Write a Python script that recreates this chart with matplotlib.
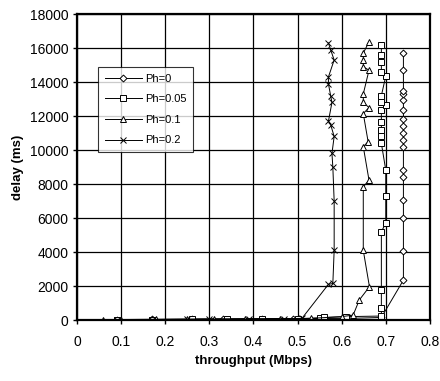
import matplotlib
matplotlib.use("Agg")
import matplotlib.pyplot as plt

plt.rcParams['font.family'] = ['Liberation Sans', 'DejaVu Sans']

# Ph = 0 (diamond)
ph0_x = [0.09, 0.17, 0.26, 0.33, 0.42, 0.49, 0.55, 0.62, 0.69, 0.74, 0.74, 0.74, 0.74, 0.74, 0.74,
         0.74, 0.74, 0.74, 0.74, 0.74, 0.74, 0.74, 0.74, 0.74, 0.74, 0.74]
ph0_y = [30, 40, 50, 60, 70, 80, 90, 100, 150, 2350, 4060, 6020, 7060, 8400, 8800,
         10200, 10600, 11000, 11400, 11800, 12350, 12950, 13300, 13500, 14700, 15700]

# Ph = 0.05 (square)
ph05_x = [0.09, 0.17, 0.26, 0.34, 0.42, 0.50, 0.55, 0.56, 0.61, 0.69, 0.69, 0.69, 0.69, 0.70, 0.70,
          0.70, 0.69, 0.69, 0.69, 0.69, 0.69, 0.70, 0.69, 0.69, 0.70, 0.69, 0.69, 0.69, 0.69]
ph05_y = [20, 30, 40, 50, 60, 80, 120, 150, 200, 235, 700, 1760, 5200, 5700, 7290,
          8820, 10400, 10800, 11200, 11650, 12350, 12640, 12800, 13200, 14350, 14600, 15200, 15600, 16170]

# Ph = 0.1 (triangle)
ph1_x = [0.06, 0.10, 0.18, 0.25, 0.31, 0.38, 0.46, 0.53, 0.60, 0.626, 0.64, 0.663, 0.649, 0.649, 0.662,
         0.649, 0.66, 0.649, 0.662, 0.649, 0.649, 0.662, 0.649, 0.649, 0.649, 0.662]
ph1_y = [20, 30, 40, 50, 60, 70, 80, 100, 200, 290, 1180, 1960, 4100, 7840, 8230,
         10200, 10490, 12150, 12500, 12800, 13300, 14700, 14900, 15300, 15700, 16370]

# Ph = 0.2 (x)
ph2_x = [0.09, 0.17, 0.25, 0.30, 0.39, 0.47, 0.51, 0.57, 0.58, 0.583, 0.583, 0.58, 0.578, 0.583, 0.575,
         0.57, 0.578, 0.575, 0.57, 0.57, 0.583, 0.575, 0.57]
ph2_y = [20, 30, 40, 50, 60, 80, 100, 2100, 2150, 4100, 7000, 9000, 9800, 10800, 11500,
         11700, 12800, 13200, 13900, 14300, 15300, 15900, 16300]

labels = ["Ph=0", "Ph=0.05", "Ph=0.1", "Ph=0.2"]
xticks = [0, 0.1, 0.2, 0.3, 0.4, 0.5, 0.6, 0.7, 0.8]
xtick_labels = ["0", "0.1", "0.2", "0.3", "0.4", "0.5", "0.6", "0.7", "0.8"]
yticks = list(range(0, 18001, 2000))

fig = plt.figure(figsize=(4.4, 3.81), dpi=100)
ax = fig.add_axes([0.175, 0.16, 0.802, 0.803])

kw = dict(color='black', linewidth=0.7, markersize=4.2, markeredgewidth=0.7)
ax.plot(ph0_x, ph0_y, marker='D', markerfacecolor='white', label=labels[0], markersize=3.5,
        color='black', linewidth=0.7, markeredgewidth=0.7)
ax.plot(ph05_x, ph05_y, marker='s', markerfacecolor='white', label=labels[1], **kw)
ax.plot(ph1_x, ph1_y, marker='^', markerfacecolor='white', label=labels[2], **kw)
ax.plot(ph2_x, ph2_y, marker='x', label=labels[3], **kw)

ax.set_xlim(0, 0.8)
ax.set_ylim(0, 18000)
ax.set_xticks(xticks)
ax.set_xticklabels(xtick_labels)
ax.set_yticks(yticks)
ax.grid(True, color='black', linewidth=0.9)
ax.set_axisbelow(True)
for s in ax.spines.values():
    s.set_linewidth(1.6)
ax.tick_params(axis='both', direction='out', length=3, width=1, labelsize=10, colors='black')
ax.tick_params(axis='x', pad=8)
ax.tick_params(axis='y', pad=3)
ax.set_xlabel("throughput (Mbps)", fontsize=9.5, fontweight='bold', labelpad=4)
ax.set_ylabel("delay (ms)", fontsize=9.5, fontweight='bold', labelpad=4)

leg = ax.legend(loc='upper left', bbox_to_anchor=(0.045, 0.845), fontsize=8, frameon=True,
                fancybox=False, edgecolor='black', handlelength=3.3, borderpad=0.6,
                labelspacing=0.95, handletextpad=0.3)
leg.get_frame().set_linewidth(0.8)

fig.savefig("out.png", dpi=100)
